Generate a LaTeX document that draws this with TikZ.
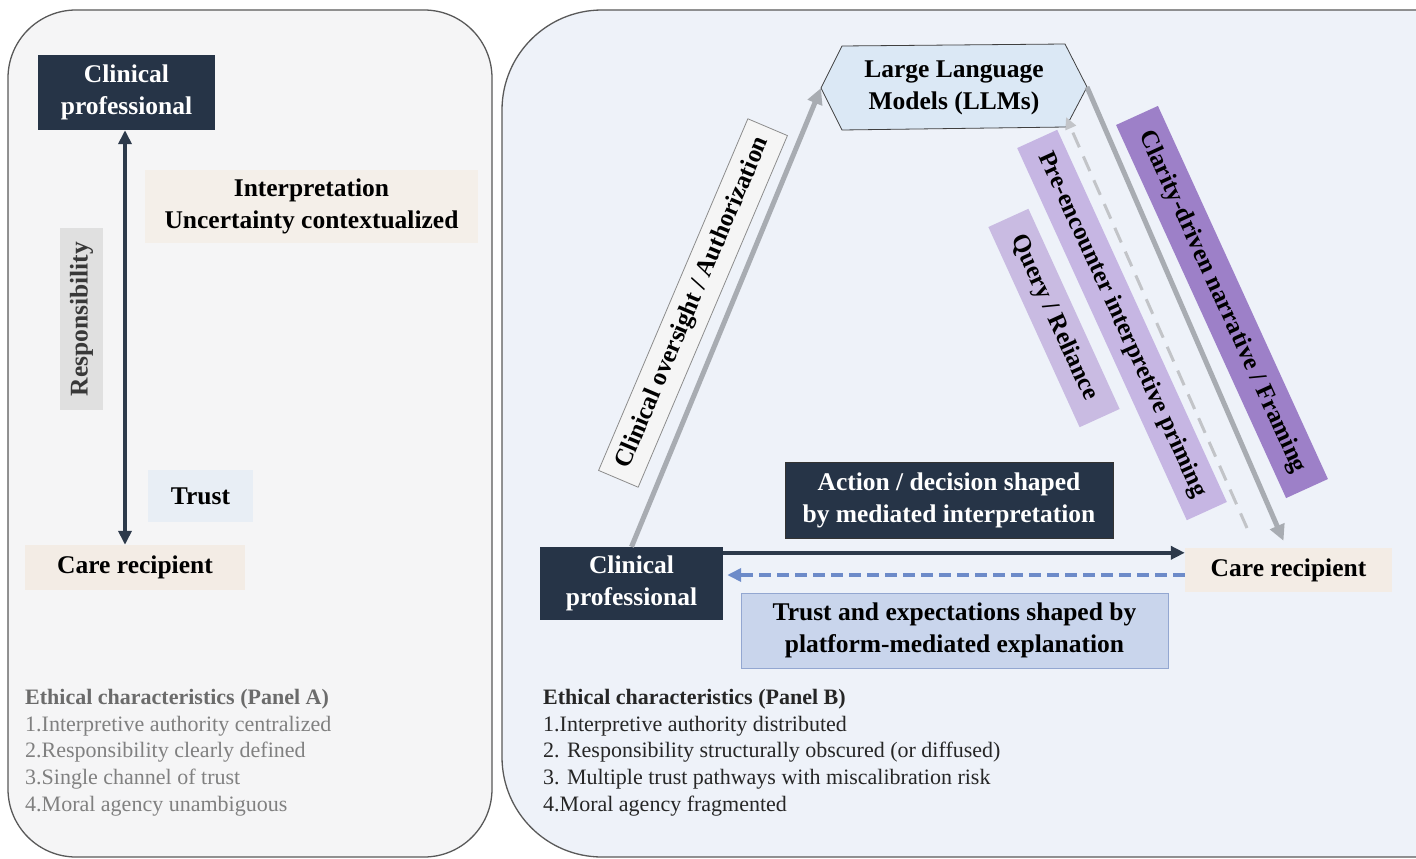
\documentclass[tikz,border=0pt]{standalone}
\usepackage{fontspec}
\setmainfont{Liberation Serif}
\usetikzlibrary{arrows.meta,calc}
\definecolor{navy}{HTML}{263447}
\definecolor{panelA}{HTML}{F5F5F6}
\definecolor{panelB}{HTML}{EEF2F9}
\definecolor{beige}{HTML}{F3ECE5}
\definecolor{respgray}{HTML}{E0E0E0}
\definecolor{trustA}{HTML}{E8EEF5}
\definecolor{interp}{HTML}{F4EFE9}
\definecolor{llmfill}{HTML}{DBE8F5}
\definecolor{grayarr}{HTML}{A8ACB2}
\definecolor{purpD}{HTML}{9D80C8}
\definecolor{purpM}{HTML}{C6B6E3}
\definecolor{purpL}{HTML}{C9BBE2}
\definecolor{trustB}{HTML}{C9D5EC}
\definecolor{trustBd}{HTML}{93A7D1}
\definecolor{bluedash}{HTML}{6D8BC9}
\definecolor{darkarr}{HTML}{2D3A4B}
\definecolor{dashgray}{HTML}{C2C4C8}
\tikzset{
  x=1pt, y=-1pt,
  lbl/.style={rectangle, inner sep=0pt, align=center, font=\bfseries\fontsize{25.5}{32}\selectfont},
  navybox/.style={lbl, fill=navy, text=white},
  beigebox/.style={lbl, fill=beige, text=black},
  rotlbl/.style={rectangle, inner sep=0pt, align=center, font=\bfseries\fontsize{25}{28}\selectfont},
  darkarrow/.style={draw=darkarr, line width=3.5pt, -{Triangle[length=14pt,width=13pt]}},
  grayarrow/.style={draw=grayarr, line width=5pt, -{Triangle[length=16pt,width=15pt]}},
  panel/.style={draw=black!65, line width=1.3pt},
  ethic/.style={anchor=north west, align=left, inner sep=0pt, font=\fontsize{22}{26.7}\selectfont}
}
\begin{document}
\begin{tikzpicture}
\useasboundingbox (0,0) rectangle (1416,859);
% panels
\draw[panel, fill=panelA, rounded corners=68pt] (8,10) rectangle (492,857);
\draw[panel, fill=panelB, rounded corners=100pt] (502,10) rectangle (1530,857);

% ---------- Panel A ----------
\node[navybox, minimum width=177pt, minimum height=75pt] (cpA) at (126.5,92.5) {Clinical\\professional};
\node[beigebox, minimum width=220pt, minimum height=45pt] (crA) at (135,567.5) {Care recipient};
\node[lbl, fill=interp, minimum width=333pt, minimum height=73pt] (interpA) at (311.5,206.5) {Interpretation\\Uncertainty contextualized};
\node[lbl, fill=respgray, text=black!78, rotate=90, minimum width=182pt, minimum height=43pt] (resp) at (81.5,319) {Responsibility};
\node[lbl, fill=trustA, minimum width=105pt, minimum height=52pt] (trustA) at (200.5,496) {Trust};
\draw[darkarrow, {Triangle[length=14pt,width=13pt]}-{Triangle[length=14pt,width=13pt]}] ($(cpA.south)+(-1.5,0)$) -- ($(cpA.south |- crA.north)+(-1.5,0)$);
\node[ethic, text=black!50] (ethA) at (25,689) {\textbf{\color{black!58}Ethical characteristics (Panel A)}\\1.Interpretive authority centralized\\2.Responsibility clearly defined\\3.Single channel of trust\\4.Moral agency unambiguous};

% ---------- Panel B ----------
\coordinate (llmL) at (821,88);
\coordinate (llmR) at (1087,87);
\filldraw[fill=llmfill, draw=black!75, line width=0.8pt] (llmL) -- (842,46) -- (1065,44) -- (llmR) -- (1066,127) -- (842,130) -- cycle;
\node[lbl, text=black] (llm) at (954,88) {Large Language\\Models (LLMs)};

\node[navybox, minimum width=183pt, minimum height=73pt] (cpB) at (631.5,583.5) {Clinical\\professional};
\node[beigebox, minimum width=207pt, minimum height=44pt] (crB) at (1288.5,570) {Care recipient};
\node[navybox, draw=black!80, line width=0.6pt, minimum width=328pt, minimum height=76pt] (actB) at (949,500) {Action / decision shaped\\by mediated interpretation};
\node[lbl, fill=trustB, draw=trustBd, line width=0.8pt, minimum width=427pt, minimum height=75pt] (trustBn) at (954.5,630.5) {Trust and expectations shaped by\\platform-mediated explanation};

% arrows
\draw[grayarrow] (cpB.north) -- (llmL);
\draw[grayarrow] (llmR) -- ($(crB.north)+(-5,-7)$);
\coordinate (dgA) at (1247,528);
\coordinate (dgB) at (1066,117);
\draw[draw=dashgray, line width=3pt, dash pattern=on 16pt off 10pt, -{Triangle[length=12pt,width=11pt]}] (dgA) -- (dgB);

\path ($(cpB.north east)+(0,6)$) coordinate (aS);
\draw[darkarrow] (aS) -- (aS -| crB.west);
\path ($(crB.west)+(0,5)$) coordinate (bS);
\draw[draw=bluedash, line width=3.5pt, dash pattern=on 12pt off 6pt, -{Triangle[length=14pt,width=13pt]}] (bS) -- ($(bS -| cpB.east)+(4,0)$);

% rotated labels
\node[rotlbl, fill=black!4, draw=black!45, line width=0.8pt, rotate=67, minimum width=382pt, minimum height=43pt] (overs) at (693,303) {Clinical oversight / Authorization};
\node[rotlbl, fill=purpD, rotate=-65.5, minimum width=410pt, minimum height=46pt] (clar) at (1222,302) {Clarity-driven narrative / Framing};
\node[rotlbl, fill=purpM, rotate=-65.5, minimum width=409pt, minimum height=44pt] (prim) at (1122,325) {Pre-encounter interpretive priming};
\node[rotlbl, fill=purpL, rotate=-65.5, minimum width=220pt, minimum height=44pt] (query) at (1054,318) {Query / Reliance};

\node[ethic, text=black!85] (ethB) at (543,689) {\textbf{Ethical characteristics (Panel B)}\\1.Interpretive authority distributed\\2. Responsibility structurally obscured (or diffused)\\3. Multiple trust pathways with miscalibration risk\\4.Moral agency fragmented};
\end{tikzpicture}
\end{document}
